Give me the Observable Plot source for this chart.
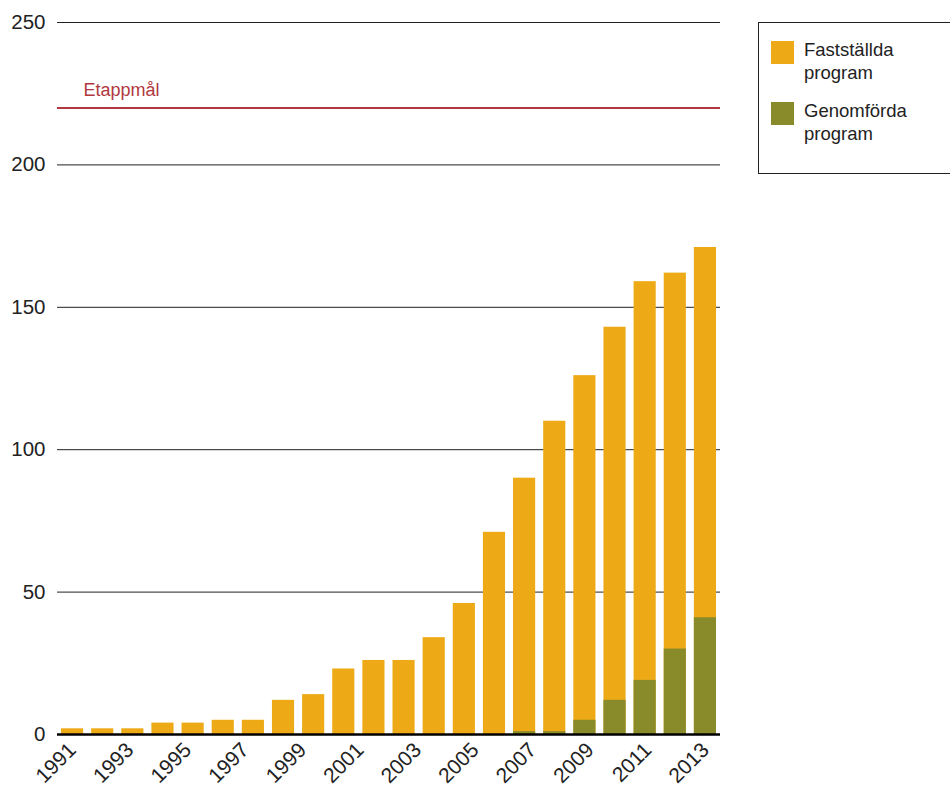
<!DOCTYPE html>
<html>
<head>
<meta charset="utf-8">
<script src="https://cdn.jsdelivr.net/npm/d3@7"></script>
<script src="https://cdn.jsdelivr.net/npm/@observablehq/plot@0.6"></script>
<style>
  body { margin: 0; background: #fff; font-family: "Liberation Sans", Arial, sans-serif; }
  #wrap { position: relative; width: 950px; height: 787px; overflow: hidden; }
  #legend { position: absolute; left: 758px; top: 22px; width: 200px; height: 152px; border: 1px solid #222; box-sizing: border-box; }
  .item { position: absolute; left: 12px; display: flex; align-items: flex-start; }
  .sw { width: 23px; height: 23px; margin-top: 3px; }
  .lab { margin-left: 10px; font-size: 18.5px; line-height: 23px; color: #222; }
</style>
</head>
<body>
<div id="wrap">
  <div id="chart"></div>
  <div id="legend"></div>
</div>
<script>
const years = [1992,1993,1994,1995,1996,1997,1998,1999,2000,2001,2002,2003,2004,2005,2006,2007,2008,2009,2010,2011,2012,2013];
const faststallda = [2,2,2,4,4,5,5,12,14,23,26,26,34,46,71,90,110,126,143,159,162,171];
const genomforda = [0,0,0,0,0,0,0,0,0,0,0,0,0,0,0,1,1,5,12,19,30,41];
const tickLabels = ["1991","1993","1995","1997","1999","2001","2003","2005","2007","2009","2011","2013"];
const yTicks = [0,50,100,150,200,250];
const etappmal = 220;
const seriesNames = ["Fastställda program","Genomförda program"];
const colors = ["#EDAA16","#898B2B"];

const data = years.map((y, i) => ({year: y, fast: faststallda[i], gen: genomforda[i]}));
const first = years[0], last = years[years.length - 1];
const tickPos = tickLabels.map((_, k) => first + k * (last - first) / (tickLabels.length - 1));

const chart = Plot.plot({
  width: 740,
  height: 787,
  marginLeft: 57,
  marginRight: 20,
  marginTop: 22,
  marginBottom: 53,
  style: {fontFamily: "Liberation Sans, Arial, sans-serif", color: "#222", background: "#fff"},
  x: {type: "linear", domain: [first - 0.5, last + 0.5]},
  y: {domain: [0, 250]},
  marks: [
    Plot.ruleY(yTicks.filter(d => d > 0), {stroke: "#222", strokeWidth: 1}),
    Plot.ruleY([etappmal], {stroke: "#B0383E", strokeWidth: 2}),
    Plot.text(["Etappmål"], {y: etappmal, frameAnchor: "left", dx: 26, dy: -18, textAnchor: "start", fill: "#B0383E", fontSize: 18}),
    Plot.rectY(data, {x1: d => d.year - 0.5, x2: d => d.year + 0.5, y: "fast", fill: colors[0], insetLeft: 4, insetRight: 4}),
    Plot.rectY(data.filter(d => d.gen > 0), {x1: d => d.year - 0.5, x2: d => d.year + 0.5, y: "gen", fill: colors[1], insetLeft: 4, insetRight: 4}),
    Plot.ruleY([0], {stroke: "#000", strokeWidth: 2.5}),
    Plot.axisY({ticks: yTicks, tickSize: 0, tickPadding: 12, fontSize: 20.5, label: null}),
    Plot.axisX({ticks: tickPos, tickFormat: d => tickLabels[Math.round((d - first) * (tickLabels.length - 1) / (last - first))], tickRotate: -45, tickSize: 0, tickPadding: 12, fontSize: 21, label: null})
  ]
});
document.getElementById("chart").appendChild(chart);

const legend = document.getElementById("legend");
seriesNames.forEach((name, i) => {
  const parts = name.split(" ");
  const item = document.createElement("div");
  item.className = "item";
  item.style.top = (15 + i * 61) + "px";
  item.innerHTML = `<div class="sw" style="background:${colors[i]}"></div><div class="lab">${parts[0]}<br>${parts[1]}</div>`;
  legend.appendChild(item);
});
</script>
</body>
</html>
